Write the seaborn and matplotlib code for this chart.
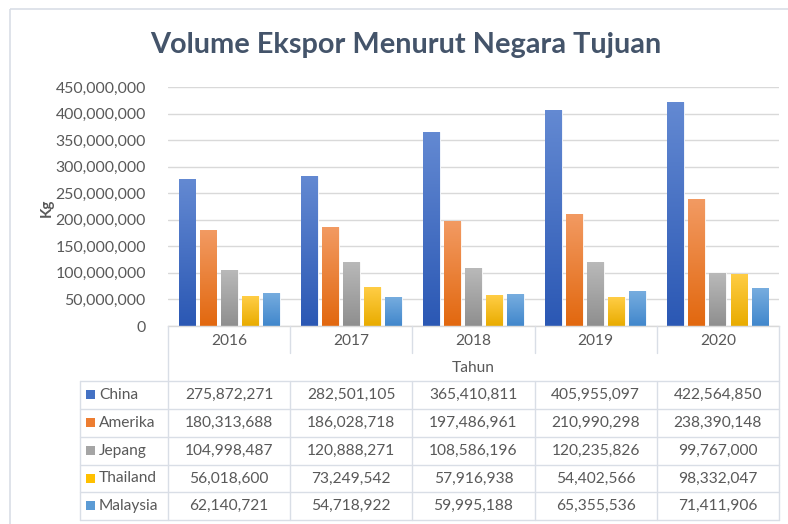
import numpy as np
import pandas as pd
import matplotlib
matplotlib.use("Agg")
import matplotlib.pyplot as plt
import seaborn as sns
from matplotlib.transforms import Affine2D, blended_transform_factory
from matplotlib.patches import Rectangle
from matplotlib.lines import Line2D
from matplotlib.colors import LinearSegmentedColormap

years = ["2016", "2017", "2018", "2019", "2020"]
countries = ["China", "Amerika", "Jepang", "Thailand", "Malaysia"]
china = [275872271, 282501105, 365410811, 405955097, 422564850]
amerika = [180313688, 186028718, 197486961, 210990298, 238390148]
jepang = [104998487, 120888271, 108586196, 120235826, 99767000]
thailand = [56018600, 73249542, 57916938, 54402566, 98332047]
malaysia = [62140721, 54718922, 59995188, 65355536, 71411906]
series = [china, amerika, jepang, thailand, malaysia]

title = "Volume Ekspor Menurut Negara Tujuan"
ylabel = "Kg"
xlabel = "Tahun"

base_colors = ["#4472C4", "#ED7D31", "#A5A5A5", "#FFC000", "#5B9BD5"]
top_colors = ["#6389D2", "#F29A62", "#B9B9B9", "#FFCD45", "#77ADDF"]
bot_colors = ["#2B58B4", "#E2680F", "#8F8F8F", "#E9AC00", "#4187CC"]

df = pd.DataFrame([
    {"Tahun": y, "Negara": c, "Kg": v}
    for c, vals in zip(countries, series) for y, v in zip(years, vals)
])

W, H = 788, 524
sns.set_theme(style="white")
plt.rcParams["font.family"] = ["Lato", "DejaVu Sans"]
fig = plt.figure(figsize=(W / 100, H / 100), dpi=100)
pix = Affine2D().scale(1 / W, -1 / H).translate(0, 1) + fig.transFigure

# outer chart frame (extends beyond the image on right and bottom)
fig.add_artist(Rectangle((10, 9), 800, 540, transform=pix, fill=False,
                         edgecolor="#D9DEE6", linewidth=1.2))

L, R, T, B = 168, 779, 87, 326
ax = fig.add_axes([L / W, 1 - B / H, (R - L) / W, (B - T) / H])

sns.barplot(data=df, x="Tahun", y="Kg", hue="Negara", order=years,
            hue_order=countries, palette=base_colors, width=0.86, gap=0.2,
            ax=ax, legend=False, saturation=1)

# gradient fills
for i, cont in enumerate(ax.containers):
    cmap = LinearSegmentedColormap.from_list("g%d" % i, [bot_colors[i], top_colors[i]])
    for p in cont.patches:
        x0, w, h = p.get_x(), p.get_width(), p.get_height()
        p.set_edgecolor("#FFFFFF")
        p.set_linewidth(0.6)
        grad = np.linspace(0, 1, 64).reshape(-1, 1)
        im = ax.imshow(grad, cmap=cmap, origin="lower", aspect="auto",
                       extent=[x0, x0 + w, 0, h], zorder=p.get_zorder() + 0.1,
                       interpolation="bilinear")
        im.set_clip_path(p)

ax.set_xlim(-0.5, 4.5)
ax.set_ylim(0, 450_000_000)
ax.set_yticks(np.arange(0, 450_000_001, 50_000_000))
ax.yaxis.set_major_formatter(matplotlib.ticker.FuncFormatter(lambda v, _: f"{int(v):,}"))
ax.grid(axis="y", color="#D9D9D9", linewidth=1.0)
ax.set_axisbelow(True)
for s in ["top", "right", "left"]:
    ax.spines[s].set_visible(False)
ax.spines["bottom"].set_color("#D9D9D9")
ax.spines["bottom"].set_linewidth(1.0)
ax.tick_params(axis="y", length=0, pad=16, labelsize=11.4, labelcolor="#595959")
ax.tick_params(axis="x", length=0, pad=6, labelsize=11.2, labelcolor="#595959")
ax.set_xlabel(xlabel, fontsize=11.2, color="#595959", labelpad=9)
ax.set_ylabel("")

fig.text(47 / W, 1 - 208 / H, ylabel, rotation=90, ha="center", va="center",
         fontsize=11, fontweight="bold", color="#595959")
fig.text(406 / W, 1 - 45 / H, title, ha="center", va="center",
         fontsize=20.8, fontweight="bold", color="#44546A")

# data table
lc = "#D9DEE6"
bt = blended_transform_factory(ax.transData, pix)
for k in range(6):
    xk = k - 0.5
    y_end = 520 if k in (0, 5) else 353
    fig.add_artist(Line2D([xk, xk], [326, y_end], transform=bt, color=lc, lw=1.0))
for k in range(1, 5):
    fig.add_artist(Line2D([k - 0.5, k - 0.5], [381, 520], transform=bt, color=lc, lw=1.0))
row_lines = [381, 409, 437, 465, 492, 520]
for yy in row_lines:
    fig.add_artist(Line2D([80, 779], [yy, yy], transform=pix, color=lc, lw=1.0))
fig.add_artist(Line2D([80, 80], [381, 520], transform=pix, color=lc, lw=1.0))
for r, (c, vals) in enumerate(zip(countries, series)):
    yc = (row_lines[r] + row_lines[r + 1]) / 2
    fig.add_artist(Rectangle((86, yc - 5), 9, 9, transform=pix,
                             facecolor=base_colors[r], edgecolor="none"))
    fig.text(99 / W, 1 - yc / H, c, ha="left", va="center", fontsize=11.2, color="#595959")
    for j, v in enumerate(vals):
        ax.text(j, yc, f"{v:,}", transform=bt, ha="center", va="center",
                fontsize=11.2, color="#595959", clip_on=False)

fig.savefig("out.png", dpi=100, facecolor="white")
